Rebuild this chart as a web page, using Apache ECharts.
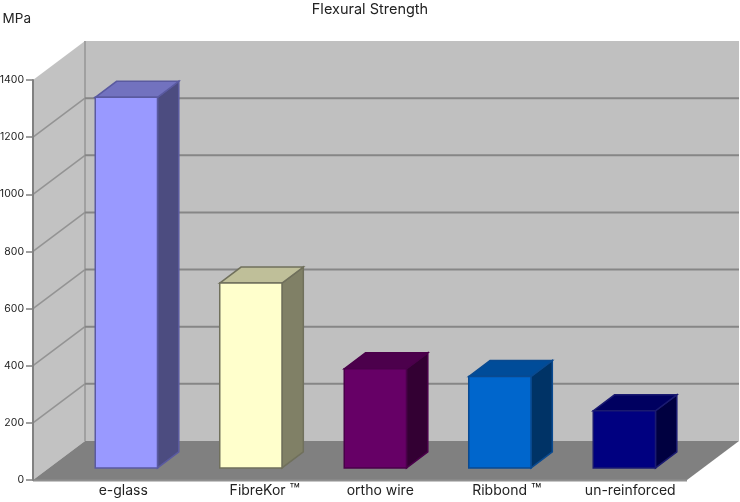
<!DOCTYPE html>
<html><head><meta charset="utf-8">
<style>html,body{margin:0;padding:0;background:#fff}#c{width:740px;height:502px}</style>
<script src="https://cdn.jsdelivr.net/npm/echarts@6/dist/echarts.min.js"></script>
</head><body><div id="c"></div>
<script>
const categories = ['e-glass', 'FibreKor \u2122', 'ortho wire', 'Ribbond \u2122', 'un-reinforced'];
const strengthMPa = [1297, 647, 347, 320, 200];
const gridValues = [0, 200, 400, 600, 800, 1000, 1200, 1400];
const labelShift = [13, 30, 21, 23, 22];
const frontColors = ['#9999ff', '#ffffcc', '#660066', '#0066cc', '#000080'];
const topColors = ['#7272bf', '#bfbf99', '#4c004c', '#004c99', '#000060'];
const sideColors = ['#4c4c80', '#808066', '#330033', '#003366', '#000040'];
const edgeColors = ['#5a5aa0', '#70705c', '#4a004a', '#0a4a90', '#1a1a70'];

const DEPTH_X = 52, DEPTH_Y = 39;      // wall depth in the fake 3D projection
const FRONT_LEFT_PAD = 15, FRONT_W = 654;
const BAR_Z = 0.31, BAR_D = 0.41;      // bar position and depth as wall-depth fractions

function renderWalls(params, api) {
  const band = api.size([1, 0])[0];
  const x0 = api.coord([0, 0])[0] - band / 2 - FRONT_LEFT_PAD;
  const x1 = x0 + FRONT_W;
  const y0 = api.coord([0, 0])[1];
  const yTop = api.coord([0, 1400])[1];
  const bx0 = x0 + DEPTH_X, bx1 = x1 + DEPTH_X;
  const poly = (pts, fill) => ({ type: 'polygon', shape: { points: pts }, style: { fill } });
  const line = (a, b, stroke, w) => ({ type: 'line', shape: { x1: a[0], y1: a[1], x2: b[0], y2: b[1] }, style: { stroke, lineWidth: w } });
  const kids = [
    poly([[bx0, yTop - DEPTH_Y], [bx1, yTop - DEPTH_Y], [bx1, y0 - DEPTH_Y], [bx0, y0 - DEPTH_Y]], '#c0c0c0'),
    poly([[x0, yTop], [bx0, yTop - DEPTH_Y], [bx0, y0 - DEPTH_Y], [x0, y0]], '#c2c2c2'),
    line([bx0, yTop - DEPTH_Y], [bx0, y0 - DEPTH_Y], '#a0a0a0', 2)
  ];
  gridValues.slice(1, -1).forEach(v => {
    const y = api.coord([0, v])[1];
    kids.push(line([x0, y], [bx0, y - DEPTH_Y], '#939393', 1.5));
    kids.push(line([bx0, y - DEPTH_Y], [bx1, y - DEPTH_Y], '#868686', 2));
  });
  kids.push(poly([[x0, y0], [bx0, y0 - DEPTH_Y], [bx1, y0 - DEPTH_Y], [x1, y0]], '#808080'));
  kids.push(line([x0, y0 + 0.5], [x1, y0 + 0.5], '#909090', 2));
  return { type: 'group', children: kids };
}

function renderBar(params, api) {
  const i = params.dataIndex;
  const c = api.coord([i, api.value(1)]);
  const b = api.coord([i, 0]);
  const band = api.size([1, 0])[0];
  const w = band * 0.5;
  const zx = DEPTH_X * BAR_Z, zy = DEPTH_Y * BAR_Z;
  const dx = DEPTH_X * BAR_D, dy = DEPTH_Y * BAR_D;
  const l = c[0] - w / 2 + zx, r = l + w, t = c[1] - zy, bt = b[1] - zy;
  const st = (fill) => ({ fill, stroke: edgeColors[i], lineWidth: 1.5 });
  return {
    type: 'group',
    children: [
      { type: 'polygon', shape: { points: [[r, t], [r + dx, t - dy], [r + dx, bt - dy], [r, bt]] }, style: st(sideColors[i]) },
      { type: 'polygon', shape: { points: [[l, t], [l + dx, t - dy], [r + dx, t - dy], [r, t]] }, style: st(topColors[i]) },
      { type: 'rect', shape: { x: l, y: t, width: w, height: bt - t }, style: st(frontColors[i]) }
    ]
  };
}

const chart = echarts.init(document.getElementById('c'), null, { renderer: 'canvas' });
chart.setOption({
  animation: false,
  backgroundColor: '#ffffff',
  textStyle: { fontFamily: 'Inter' },
  title: {
    text: 'Flexural Strength', left: 'center', top: 2, padding: 0,
    textStyle: { fontFamily: 'Inter', fontSize: 14.5, fontWeight: 'normal', color: '#222' }
  },
  grid: { left: 48, top: 80, width: 622.5, height: 400, containLabel: false, outerBoundsMode: 'none' },
  xAxis: {
    type: 'category',
    data: categories.map((name, i) => ({
      value: name,
      textStyle: { padding: [0, 0, 0, labelShift[i] * 2] }
    })),
    axisLine: { show: false }, axisTick: { show: false },
    axisLabel: {
      interval: 0, margin: 1, fontFamily: 'Inter', fontSize: 14, lineHeight: 20, color: '#222',
      formatter: v => v.replace('\u2122', '{tm|\u2122}'),
      rich: { tm: { fontFamily: 'Inter', fontSize: 17, lineHeight: 20, color: '#222' } }
    }
  },
  yAxis: {
    type: 'value', min: 0, max: 1400, interval: 200,
    offset: FRONT_LEFT_PAD, z: 10,
    name: 'MPa', nameLocation: 'end', nameGap: 54,
    nameTextStyle: { fontFamily: 'Inter', fontSize: 13.5, color: '#222', align: 'right', padding: [0, 2, 0, 0] },
    axisLine: { show: true, lineStyle: { color: '#808080', width: 2 } },
    axisTick: { show: true, length: 7, lineStyle: { color: '#808080', width: 1.5 } },
    axisLabel: { margin: 9, fontFamily: 'Inter', fontSize: 10.5, color: '#222', formatter: v => String(v) },
    splitLine: { show: false }
  },
  series: [
    { type: 'custom', name: 'walls', silent: true, z: 1, clip: false, renderItem: renderWalls, data: [[0, 0]], encode: { x: 0, y: 1 } },
    { type: 'custom', name: 'Flexural Strength', silent: true, z: 2, clip: false, renderItem: renderBar,
      data: strengthMPa.map((v, i) => [i, v]), encode: { x: 0, y: 1 } }
  ]
});
</script></body></html>
